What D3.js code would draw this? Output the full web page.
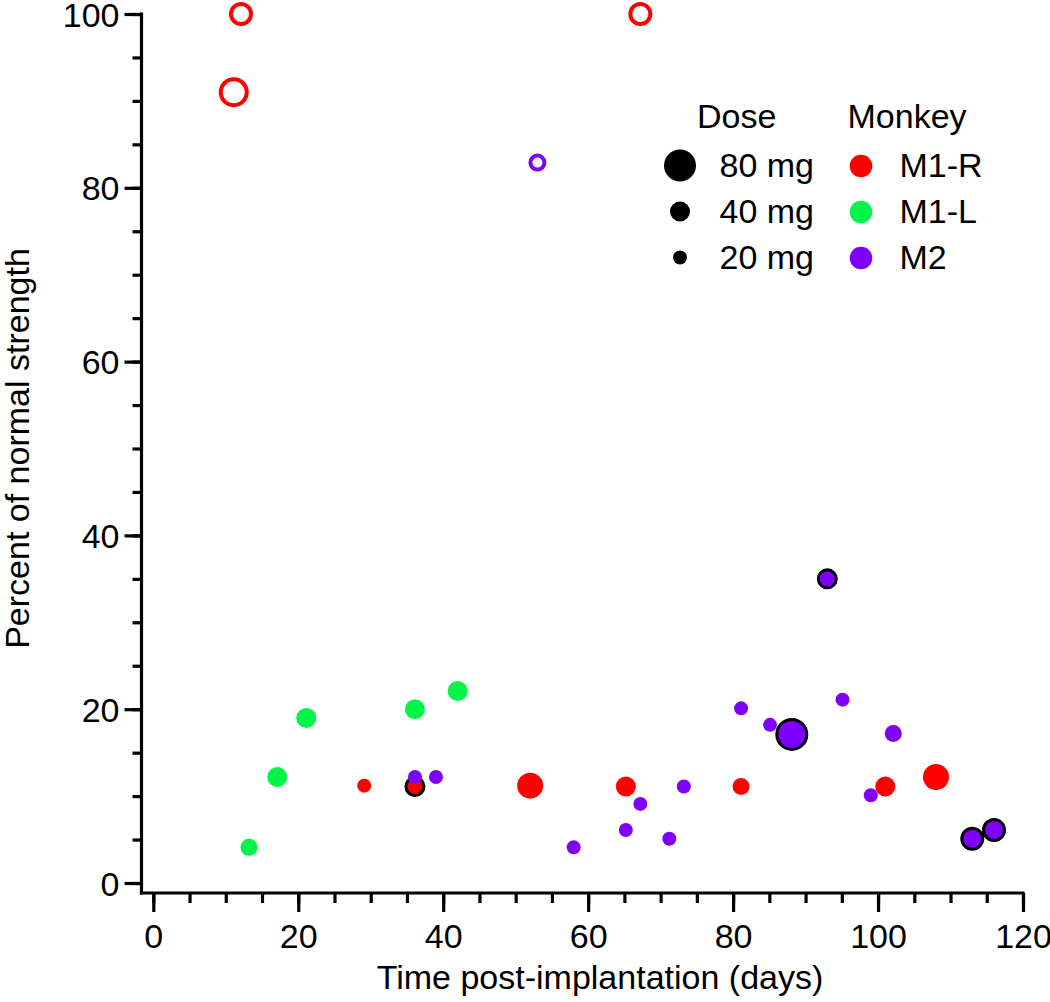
<!DOCTYPE html>
<html><head><meta charset="utf-8">
<script src="https://cdn.jsdelivr.net/npm/d3@7"></script>
<style>body{margin:0;background:#fff}svg{display:block}</style>
</head><body><svg id="chart" width="1050" height="1002"></svg>
<script>
// ---- data (draw order) ----
const days   = [99.0, 29.1, 36.1, 52.0, 65.2, 81.1, 101.0, 108.0, 11.1, 12.1, 67.2,
                13.2, 17.1, 21.1, 36.1, 42.0,
                36.1, 39.0, 58.0, 65.2, 67.2, 71.2, 73.2, 81.1, 85.1, 88.1, 93.0, 95.1, 102.1, 116.0, 113.0, 53.0];
const pct    = [10.1, 11.2, 11.1, 11.2, 11.1, 11.1, 11.1, 12.2, 91.0, 100, 100,
                4.1, 12.2, 19.0, 20.0, 22.1,
                12.2, 12.2, 4.1, 6.1, 9.1, 5.1, 11.1, 20.1, 18.2, 17.1, 35.0, 21.1, 17.2, 6.1, 5.1, 82.9];
const dose   = [20, 20, 40, 60, 40, 30, 40, 60, 60, 40, 40,
                30, 40, 40, 40, 40,
                20, 20, 20, 20, 20, 20, 20, 20, 20, 80, 40, 20, 30, 50, 50, 20];
const monkey = ["M2", "M1-R", "M1-R", "M1-R", "M1-R", "M1-R", "M1-R", "M1-R", "M1-R", "M1-R", "M1-R",
                "M1-L", "M1-L", "M1-L", "M1-L", "M1-L",
                "M2", "M2", "M2", "M2", "M2", "M2", "M2", "M2", "M2", "M2", "M2", "M2", "M2", "M2", "M2", "M2"];
const marker = ["fill", "fill", "ring", "fill", "fill", "fill", "fill", "fill", "open", "open", "open",
                "fill", "fill", "fill", "fill", "fill",
                "fill", "fill", "fill", "fill", "fill", "fill", "fill", "fill", "fill", "ring", "ring", "fill", "fill", "ring", "ring", "open"];

const xTicks = [0, 20, 40, 60, 80, 100, 120];
const yTicks = [0, 20, 40, 60, 80, 100];
const monkeys = ["M1-R", "M1-L", "M2"];
const monkeyColors = ["#ff0000", "#00f548", "#7f00ff"];
const legendDoses = [80, 40, 20];
const legendDoseLabels = ["80 mg", "40 mg", "20 mg"];
const xTitle = "Time post-implantation (days)";
const yTitle = "Percent of normal strength";

// ---- drawing ----
const FONT = "'Liberation Sans', Arial, Helvetica, sans-serif";
const FS = 34;
const svg = d3.select("#chart");
svg.append("rect").attr("width", 1050).attr("height", 1002).attr("fill", "#fff");

const x = d3.scaleLinear().domain([0, 120]).range([153.3, 1023]);
const y = d3.scaleLinear().domain([0, 100]).range([883, 14]);
const r = d3.scaleLinear().domain([20, 80]).range([7, 16]);
const color = d3.scaleOrdinal().domain(monkeys).range(monkeyColors);

const axisY0 = 893;   // x-axis line position
const axisX0 = 141.5; // y-axis line position

function styleAxis(g) {
  g.select(".domain").remove();
  g.selectAll(".tick line").attr("stroke", "#000").attr("stroke-width", 3.2);
  g.selectAll("text").attr("font-family", FONT).attr("font-size", FS).attr("fill", "#000");
}

// minor ticks
const gxMinor = svg.append("g").attr("transform", `translate(0,${axisY0})`)
  .call(d3.axisBottom(x).tickValues(d3.range(0, 121, 5)).tickSize(10).tickFormat(""));
styleAxis(gxMinor);
const gyMinor = svg.append("g").attr("transform", `translate(${axisX0},0)`)
  .call(d3.axisLeft(y).tickValues(d3.range(0, 101, 5)).tickSize(9).tickFormat(""));
styleAxis(gyMinor);

// major ticks
const gx = svg.append("g").attr("transform", `translate(0,${axisY0})`)
  .call(d3.axisBottom(x).tickValues(xTicks).tickSize(19).tickPadding(0).tickFormat(d3.format("d")));
styleAxis(gx);
gx.selectAll("text").attr("y", 55).attr("dy", null);

const gy = svg.append("g").attr("transform", `translate(${axisX0},0)`)
  .call(d3.axisLeft(y).tickValues(yTicks).tickSize(17).tickPadding(0).tickFormat(d3.format("d")));
styleAxis(gy);
gy.selectAll("text").attr("x", -22).attr("dy", "12");

// axis lines
svg.append("line").attr("x1", axisX0).attr("x2", axisX0).attr("y1", y(100) - 1.5).attr("y2", axisY0 + 1.6)
  .attr("stroke", "#000").attr("stroke-width", 3.2);
svg.append("line").attr("x1", axisX0 - 1.6).attr("x2", x(120) + 1.6).attr("y1", axisY0).attr("y2", axisY0)
  .attr("stroke", "#000").attr("stroke-width", 3.2);

// titles
svg.append("text").attr("x", 600).attr("y", 989)
  .attr("text-anchor", "middle").attr("font-family", FONT).attr("font-size", FS).text(xTitle);
svg.append("text").attr("transform", `translate(29,${(y(0) + y(100)) / 2}) rotate(-90)`)
  .attr("text-anchor", "middle").attr("font-family", FONT).attr("font-size", FS).text(yTitle);

// points
const pts = days.map((d, i) => ({ day: d, pct: pct[i], dose: dose[i], monkey: monkey[i], marker: marker[i] }));
svg.append("g").selectAll("circle").data(pts).join("circle")
  .attr("cx", d => x(d.day))
  .attr("cy", d => y(d.pct))
  .attr("r", d => d.marker === "ring" ? r(d.dose) - 1 : r(d.dose))
  .attr("fill", d => d.marker === "open" ? "none" : color(d.monkey))
  .attr("stroke", d => d.marker === "ring" ? "#000" : d.marker === "open" ? color(d.monkey) : "none")
  .attr("stroke-width", d => d.marker === "ring" ? 3 : d.marker === "open" ? 4 : 0);

// legend
const rowBase = [177, 223, 269];
const lg = svg.append("g").attr("font-family", FONT).attr("font-size", FS);
lg.append("text").attr("x", 697).attr("y", 128).text("Dose");
lg.append("text").attr("x", 847.5).attr("y", 128).text("Monkey");
legendDoses.forEach((dv, i) => {
  lg.append("circle").attr("cx", 680).attr("cy", rowBase[i] - 11.5).attr("r", r(dv)).attr("fill", "#000");
  lg.append("text").attr("x", 719.5).attr("y", rowBase[i]).text(legendDoseLabels[i]);
});
monkeys.forEach((m, i) => {
  lg.append("circle").attr("cx", 861).attr("cy", rowBase[i] - 11).attr("r", 11.3).attr("fill", color(m));
  lg.append("text").attr("x", 899.5).attr("y", rowBase[i]).text(m);
});
</script>
</body></html>
